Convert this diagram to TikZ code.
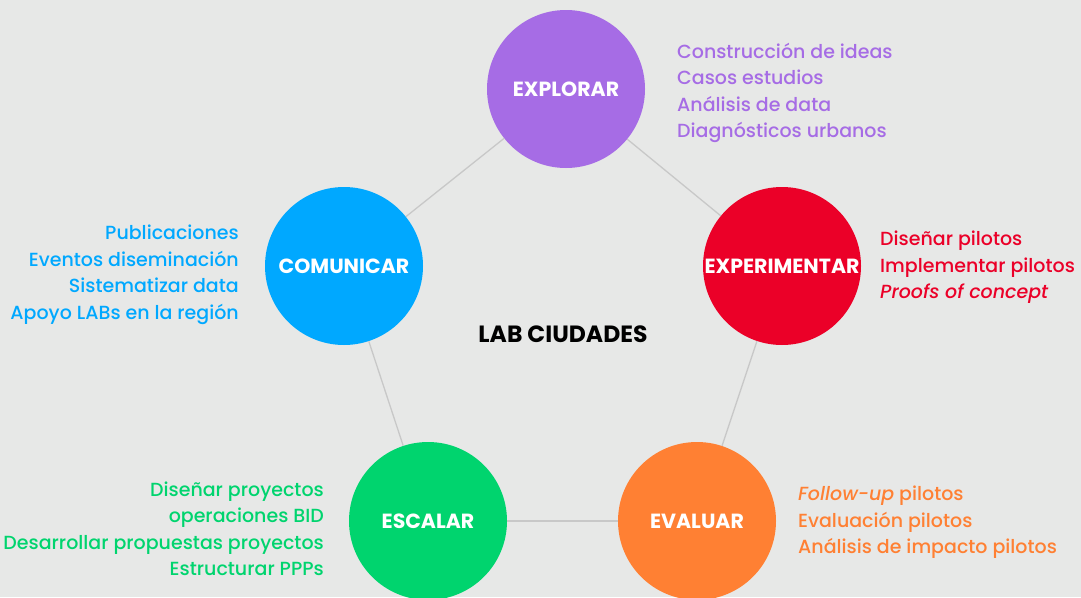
\documentclass[tikz,border=0pt]{standalone}
\usepackage{fontspec}
\setmainfont{Poppins}[UprightFont=* Medium, ItalicFont=* Medium Italic, BoldFont=* Bold]
\definecolor{bg}{HTML}{E7E8E7}
\definecolor{cpur}{HTML}{A66CE5}
\definecolor{cblu}{HTML}{00A8FF}
\definecolor{cred}{HTML}{EB0028}
\definecolor{cgrn}{HTML}{00D46E}
\definecolor{corg}{HTML}{FF8033}
\definecolor{edge}{HTML}{C8C8C8}
\begin{document}
\begin{tikzpicture}[x=1pt,y=-1pt,
  stage/.style={circle,minimum size=158pt,inner sep=0pt,text=white,font=\fontsize{20.5}{22}\selectfont\bfseries},
  items/.style={font=\fontsize{19}{26.5}\selectfont,inner sep=0pt},
  link/.style={draw=edge,line width=1.3pt}]
\fill[bg] (0,0) rectangle (1081,597);
\useasboundingbox (0,0) rectangle (1081,597);
\node[stage,fill=cpur] (exp) at (566,89) {\raisebox{-2pt}{EXPLORAR}};
\node[stage,fill=cred] (ext) at (782,266) {\raisebox{-2pt}{EXPERIMENTAR}};
\node[stage,fill=corg] (eva) at (697,521) {\raisebox{-2pt}{EVALUAR}};
\node[stage,fill=cgrn] (esc) at (428,521) {\raisebox{-2pt}{ESCALAR}};
\node[stage,fill=cblu] (com) at (344,266) {\raisebox{-2pt}{COMUNICAR}};
\draw[link] (exp) -- (ext);
\draw[link] (ext) -- (eva);
\draw[link] (eva) -- (esc);
\draw[link] (esc) -- (com);
\draw[link] (com) -- (exp);
\node[font=\fontsize{23.5}{25}\selectfont\bfseries] (lab) at (563,334) {LAB CIUDADES};
\node[items,text=cpur,anchor=west,align=left] (lexp) at (677,93) {Construcción de ideas\\Casos estudios\\Análisis de data\\Diagnósticos urbanos};
\node[items,text=cred,anchor=west,align=left] (lext) at (880,267.5) {Diseñar pilotos\\Implementar pilotos\\\textit{Proofs of concept}};
\node[items,text=corg,anchor=west,align=left] (leva) at (798,522.5) {\textit{Follow-up} pilotos\\Evaluación pilotos\\Análisis de impacto pilotos};
\node[items,text=cgrn,anchor=east,align=right] (lesc) at (324,529) {Diseñar proyectos\\operaciones BID\\Desarrollar propuestas proyectos\\Estructurar PPPs};
\node[items,text=cblu,anchor=east,align=right] (lcom) at (239,275) {Publicaciones\\Eventos diseminación\\Sistematizar data\\Apoyo LABs en la región};
\end{tikzpicture}
\end{document}
